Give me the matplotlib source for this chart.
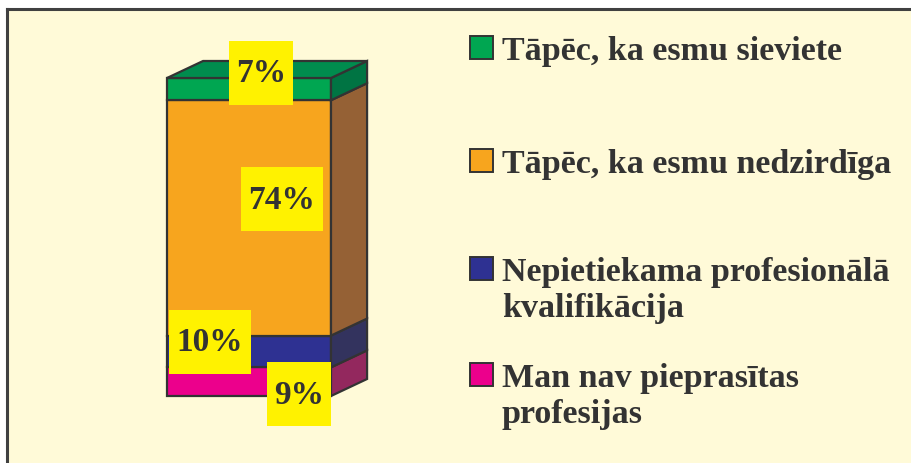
import matplotlib
matplotlib.use("Agg")
import matplotlib.pyplot as plt
from matplotlib.patches import Polygon, Rectangle
from matplotlib.lines import Line2D

# ---- data (bottom -> top) ----
categories = ["Man nav pieprasītas\nprofesijas",
              "Nepietiekama profesionālā\nkvalifikācija",
              "Tāpēc, ka esmu nedzirdīga",
              "Tāpēc, ka esmu sieviete"]
values = [9, 10, 74, 7]
value_labels = ["9%", "10%", "74%", "7%"]

# ---- styles ----
front_colors = ["#EC008C", "#2E3192", "#F7A51E", "#00A651"]
side_colors = ["#93285E", "#33335E", "#956135", "#007443"]
top_color = "#008C4E"
edge = "#333333"
bg = "#FFFAD8"
label_bg = "#FFF200"
txt_color = "#333333"
serif = ["Liberation Serif", "DejaVu Serif"]

W, H = 911, 464
fig = plt.figure(figsize=(W / 100, H / 100), dpi=100, facecolor="white")

# background panel with top/left border
fig.patches.append(Rectangle((7 / W, 0), 1, (H - 10) / H, transform=fig.transFigure,
                             facecolor=bg, edgecolor="none", zorder=-10))
fig.lines.append(Line2D([7 / W, 1], [(H - 10) / H] * 2, transform=fig.transFigure,
                        color="#404040", lw=2.2, zorder=-5))
fig.lines.append(Line2D([7 / W, 7 / W], [0, (H - 10) / H], transform=fig.transFigure,
                        color="#404040", lw=2.2, zorder=-5))

# axes: x 0..1 = bar front width, y in percent
ax = fig.add_axes([167 / W, 67 / H, 164 / W, 318 / H])
ax.set_zorder(1)
ax.set_xlim(0, 1)
ax.set_ylim(0, 100)
ax.axis("off")
ax.patch.set_alpha(0)

DX = 0.22   # depth offset (x, data units)
DY = 5.35   # depth offset (y, data units)

cum = 0
for v, fc, sc in zip(values, front_colors, side_colors):
    y0, y1 = cum, cum + v
    ax.add_patch(Rectangle((0, y0), 1, v, facecolor=fc, edgecolor=edge, lw=1.6,
                           clip_on=False, zorder=2))
    ax.add_patch(Polygon([(1, y0), (1 + DX, y0 + DY), (1 + DX, y1 + DY), (1, y1)],
                         closed=True, facecolor=sc, edgecolor=edge, lw=1.6,
                         clip_on=False, zorder=2))
    cum = y1
ax.add_patch(Polygon([(0, cum), (DX, cum + DY), (1 + DX, cum + DY), (1, cum)],
                     closed=True, facecolor=top_color, edgecolor=edge, lw=1.6,
                     clip_on=False, zorder=2))

# value labels (yellow boxes)
label_pos = [(0.805, 0.6), (0.262, 17.0), (0.70, 61.9), (0.573, 101.6)]
box_h = 20.1
for lab, (x, y) in zip(value_labels, label_pos):
    bw = 0.5 if len(lab) > 2 else 0.396
    ax.add_patch(Rectangle((x - bw / 2, y - box_h / 2), bw, box_h, facecolor=label_bg,
                           edgecolor="none", clip_on=False, zorder=3))
    ax.text(x, y, lab, ha="center", va="center", fontsize=24, fontweight="bold",
            family=serif, color=txt_color, zorder=4, clip_on=False)

# legend (top -> bottom)
leg_sq_top = [37, 150, 258, 364]
for cat, fc, top in zip(categories[::-1], front_colors[::-1], leg_sq_top):
    fig.patches.append(Rectangle((470 / W, (H - top - 23) / H), 23 / W, 23 / H,
                                 transform=fig.transFigure, facecolor=fc,
                                 edgecolor=edge, lw=1.4, zorder=3))
    fig.text(502 / W, (H - top + 1) / H, cat, ha="left", va="top", fontsize=24.5,
             fontweight="bold", family=serif, color=txt_color, linespacing=1.2)

fig.savefig("out.png", dpi=100, facecolor="white")
